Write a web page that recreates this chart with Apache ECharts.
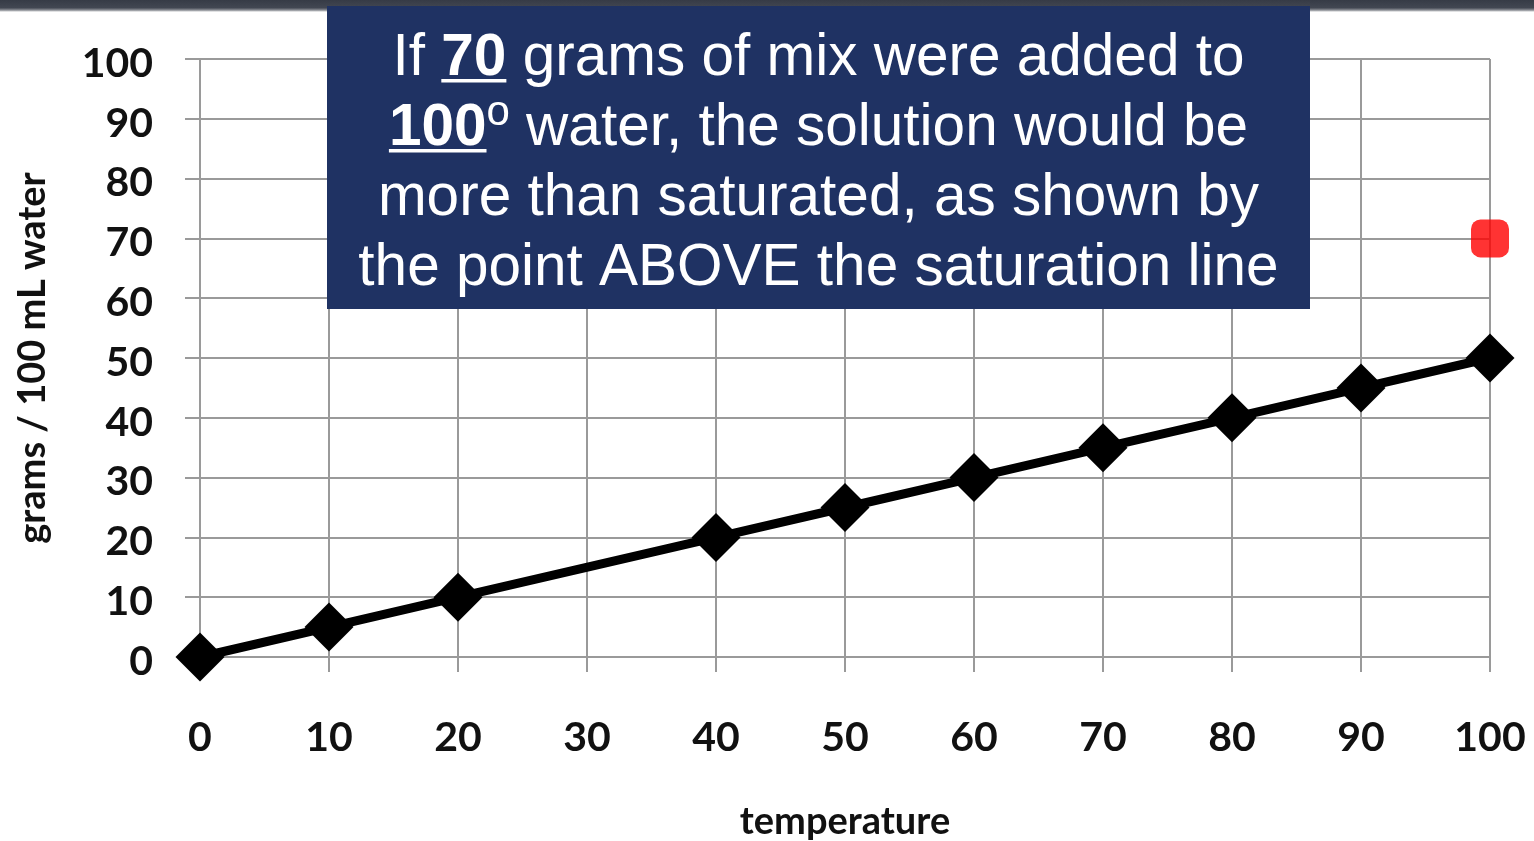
<!DOCTYPE html>
<html>
<head>
<meta charset="utf-8">
<script src="https://cdn.jsdelivr.net/npm/echarts@6/dist/echarts.min.js"></script>
<style>
  html, body { margin: 0; padding: 0; background: #ffffff; }
  #chart { width: 1534px; height: 841px; }
</style>
</head>
<body>
<div id="chart"></div>
<script>
// Saturation curve: grams of mix dissolving in 100 mL of water at each temperature
const temperatures = [0, 10, 20, 40, 50, 60, 70, 80, 90, 100];
const gramsDissolved = [0, 5, 10, 20, 25, 30, 35, 40, 45, 50];

// The 70 g added to 100° water
const addedTemperature = [100];
const addedGrams = [70];

// Axis ticks
const xTicks = [0, 10, 20, 30, 40, 50, 60, 70, 80, 90, 100];
const yTicks = [0, 10, 20, 30, 40, 50, 60, 70, 80, 90, 100];

const xAxisName = 'temperature';
const yAxisName = 'grams / 100 mL water';

// Callout text, one row per line; each piece is [style, text]
const calloutLines = [
  [['n', 'If '], ['u', '70'], ['n', ' grams of mix were added to']],
  [['u', '100'], ['sup', 'o'], ['n', ' water, the solution would be']],
  [['n', 'more than saturated, as shown by']],
  [['n', 'the point ABOVE the saturation line']]
];

// ---- layout ----
const BOX = { x: 327, y: 6, w: 983, h: 303 };
const TEXT_TOP = 18;      // top of the first callout line box
const LINE_H = 70;        // callout line pitch
const BODY_SIZE = 58.5;
const SUP_SIZE = 42;
const FONT = 'Liberation Sans';
const pieceFont = {
  n:   { weight: 'normal', size: BODY_SIZE },
  u:   { weight: 'bold',   size: BODY_SIZE },
  sup: { weight: 'normal', size: SUP_SIZE }
};

const measureCtx = document.createElement('canvas').getContext('2d');
function pieceWidth(style, str) {
  const f = pieceFont[style];
  measureCtx.font = f.weight + ' ' + f.size + 'px ' + FONT;
  return measureCtx.measureText(str).width;
}

const centerX = BOX.x + BOX.w / 2;
const richText = calloutLines
  .map(line => line.map(([s, t]) => '{' + s + '|' + t + '}').join(''))
  .join('\n');

// underline bars under the bold figures
const underlines = [];
calloutLines.forEach((line, i) => {
  const total = line.reduce((acc, [s, t]) => acc + pieceWidth(s, t), 0);
  let x = centerX - total / 2;
  const baseline = TEXT_TOP + LINE_H * i + 55;
  line.forEach(([s, t]) => {
    const w = pieceWidth(s, t);
    if (s === 'u') {
      underlines.push({
        type: 'rect', z: 102,
        shape: { x: x, y: baseline + 6, width: w, height: 3.5 },
        style: { fill: '#ffffff' }
      });
    }
    x += w;
  });
});

const gridColor = '#9a9a9a';
const labelFont = 'Lato';

const chart = echarts.init(document.getElementById('chart'), null, { renderer: 'canvas' });
chart.setOption({
  backgroundColor: '#ffffff',
  animation: false,
  title: {
    text: richText,
    left: centerX,
    top: TEXT_TOP,
    textAlign: 'center',
    padding: 0,
    z: 103,
    textStyle: {
      lineHeight: LINE_H,
      rich: {
        n:   { color: '#ffffff', fontFamily: FONT, fontSize: BODY_SIZE, fontWeight: 'normal', lineHeight: LINE_H, verticalAlign: 'bottom' },
        u:   { color: '#ffffff', fontFamily: FONT, fontSize: BODY_SIZE, fontWeight: 'bold', lineHeight: LINE_H, verticalAlign: 'bottom' },
        sup: { color: '#ffffff', fontFamily: FONT, fontSize: SUP_SIZE, fontWeight: 'normal', lineHeight: SUP_SIZE, verticalAlign: 'bottom', padding: [0, 0, 24, 0] }
      }
    }
  },
  grid: {
    left: 200, right: 44, top: 59, bottom: 184,
    outerBoundsMode: 'none'
  },
  xAxis: {
    type: 'value',
    min: xTicks[0], max: xTicks[xTicks.length - 1], interval: xTicks[1] - xTicks[0],
    name: xAxisName,
    nameLocation: 'middle',
    nameGap: 146,
    nameTextStyle: { fontFamily: labelFont, fontWeight: 'bold', fontSize: 38, color: '#111111' },
    axisLine: { show: true, lineStyle: { color: gridColor, width: 2 } },
    axisTick: { show: true, inside: false, length: 15, lineStyle: { color: gridColor, width: 2 } },
    splitLine: { show: true, showMinLine: true, showMaxLine: true, lineStyle: { color: gridColor, width: 2 } },
    axisLabel: { margin: 60, fontFamily: labelFont, fontWeight: 'bold', fontSize: 41, color: '#111111' }
  },
  yAxis: {
    type: 'value',
    min: yTicks[0], max: yTicks[yTicks.length - 1], interval: yTicks[1] - yTicks[0],
    name: yAxisName,
    nameLocation: 'middle',
    nameGap: 148,
    nameTextStyle: { fontFamily: labelFont, fontWeight: 'bold', fontSize: 38, color: '#111111' },
    axisLine: { show: true, lineStyle: { color: gridColor, width: 2 } },
    axisTick: { show: true, inside: false, length: 15, lineStyle: { color: gridColor, width: 2 } },
    splitLine: { show: true, showMinLine: true, showMaxLine: true, lineStyle: { color: gridColor, width: 2 } },
    axisLabel: {
      margin: 47,
      formatter: v => '{v|' + v + '}',
      rich: {
        v: { fontFamily: labelFont, fontWeight: 'bold', fontSize: 41, color: '#111111', padding: [9, 0, 0, 0] }
      }
    }
  },
  series: [
    {
      name: 'saturation',
      type: 'line',
      data: temperatures.map((t, i) => [t, gramsDissolved[i]]),
      symbol: 'diamond',
      symbolSize: 49,
      lineStyle: { color: '#000000', width: 9 },
      itemStyle: { color: '#000000' },
      z: 5
    },
    {
      name: 'added',
      type: 'scatter',
      data: addedTemperature.map((t, i) => [t, addedGrams[i]]),
      symbol: 'roundRect',
      symbolSize: 38,
      itemStyle: { color: '#ff0000' },
      z: 6
    }
  ],
  graphic: [
    {
      type: 'rect', z: 100,
      shape: { x: 0, y: 0, width: 1534, height: 12 },
      style: {
        fill: new echarts.graphic.LinearGradient(0, 0, 0, 1, [
          { offset: 0, color: '#363b46' },
          { offset: 0.65, color: '#424752' },
          { offset: 0.85, color: '#8e9197' },
          { offset: 1, color: '#ffffff' }
        ])
      }
    },
    {
      type: 'rect', z: 101,
      shape: { x: BOX.x, y: BOX.y, width: BOX.w, height: BOX.h },
      style: { fill: '#1f3263' }
    }
  ].concat(underlines)
});
</script>
</body>
</html>
